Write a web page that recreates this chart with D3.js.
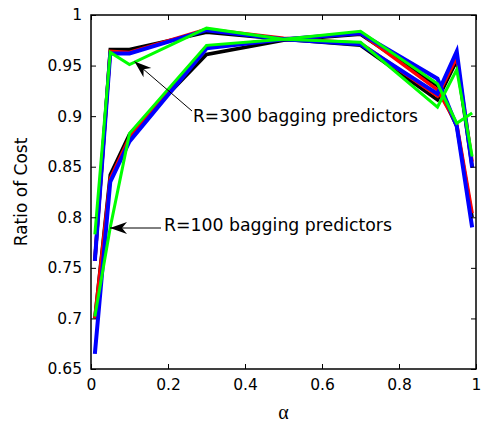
<!DOCTYPE html>
<html>
<head>
<meta charset="utf-8">
<script src="https://cdn.jsdelivr.net/npm/d3@7"></script>
<style>
  body { margin: 0; background: #fff; }
  text { font-family: "DejaVu Sans", "Liberation Sans", Arial, sans-serif; fill: #000; }
</style>
</head>
<body>
<div id="chart"></div>
<script>
// alpha grid
const alpha = [0.01, 0.05, 0.1, 0.3, 0.5, 0.7, 0.9, 0.95, 0.99];

// R=300 bagging predictors
const black300 = [0.757, 0.966, 0.966, 0.983, 0.976, 0.970, 0.916, 0.955, 0.850];
const red300   = [0.757, 0.964, 0.963, 0.986, 0.977, 0.972, 0.920, 0.958, 0.855];
const blue300  = [0.757, 0.962, 0.962, 0.985, 0.976, 0.971, 0.922, 0.964, 0.849];
const green300 = [0.783, 0.963, 0.951, 0.987, 0.976, 0.973, 0.909, 0.946, 0.860];

// R=100 bagging predictors
const black100 = [0.700, 0.842, 0.882, 0.961, 0.975, 0.981, 0.930, 0.890, 0.800];
const red100   = [0.700, 0.838, 0.879, 0.968, 0.976, 0.982, 0.926, 0.892, 0.804];
const blue100  = [0.665, 0.835, 0.875, 0.967, 0.976, 0.982, 0.937, 0.890, 0.790];
const green100 = [0.702, 0.790, 0.883, 0.970, 0.976, 0.984, 0.932, 0.893, 0.903];

const xTicks = [0, 0.2, 0.4, 0.6, 0.8, 1];
const yTicks = [0.65, 0.7, 0.75, 0.8, 0.85, 0.9, 0.95, 1];

const series = [
  { col: "#000000", w: 3.5, vals: black300 },
  { col: "#000000", w: 3.5, vals: black100 },
  { col: "#ff0000", w: 3.5, vals: red300 },
  { col: "#ff0000", w: 3.5, vals: red100 },
  { col: "#0000ff", w: 4, vals: blue300 },
  { col: "#0000ff", w: 4, vals: blue100 },
  { col: "#00ff00", w: 3, vals: green300 },
  { col: "#00ff00", w: 3, vals: green100 }
];

const width = 485, height = 423;
const m = { left: 91, right: 476, top: 15, bottom: 369 };

const x = d3.scaleLinear().domain([0, 1]).range([m.left, m.right]);
const y = d3.scaleLinear().domain([0.65, 1]).range([m.bottom, m.top]);

const svg = d3.select("#chart").append("svg")
  .attr("width", width)
  .attr("height", height);

// lines
const line = d3.line()
  .x((d, i) => x(alpha[i]))
  .y(d => y(d));

svg.append("g").selectAll("path")
  .data(series)
  .enter()
  .append("path")
  .attr("d", d => line(d.vals))
  .attr("fill", "none")
  .attr("stroke", d => d.col)
  .attr("stroke-width", d => d.w)
  .attr("stroke-linejoin", "miter");

// axes with inward ticks (matlab box)
const fmt = d => String(+d.toFixed(2));

svg.append("g")
  .attr("transform", `translate(0,${m.bottom})`)
  .call(d3.axisBottom(x).tickValues(xTicks).tickSize(-5).tickPadding(10).tickFormat(fmt));
svg.append("g")
  .attr("transform", `translate(${m.left},0)`)
  .call(d3.axisLeft(y).tickValues(yTicks).tickSize(-5).tickPadding(9).tickFormat(fmt));
svg.append("g")
  .attr("transform", `translate(0,${m.top})`)
  .call(d3.axisTop(x).tickValues(xTicks).tickSize(-5).tickFormat(""));
svg.append("g")
  .attr("transform", `translate(${m.right},0)`)
  .call(d3.axisRight(y).tickValues(yTicks).tickSize(-5).tickFormat(""));

svg.selectAll(".domain").remove();
svg.selectAll(".tick line").attr("stroke", "#000").attr("stroke-width", 1);
svg.selectAll(".tick text")
  .style("font-family", "'DejaVu Sans', sans-serif")
  .style("font-size", "15.5px")
  .attr("fill", "#000");

svg.append("rect")
  .attr("x", m.left).attr("y", m.top)
  .attr("width", m.right - m.left).attr("height", m.bottom - m.top)
  .attr("fill", "none")
  .attr("stroke", "#000")
  .attr("stroke-width", 1.5);

// axis labels
svg.append("text")
  .attr("x", x(0.5))
  .attr("y", 419)
  .attr("text-anchor", "middle")
  .style("font-family", "'Liberation Serif', 'DejaVu Serif', serif")
  .style("font-size", "20px")
  .text("α");

svg.append("text")
  .attr("transform", `translate(27,${(m.top + m.bottom) / 2}) rotate(-90)`)
  .attr("text-anchor", "middle")
  .style("font-size", "17px")
  .text("Ratio of Cost");

// annotations with arrows
function arrow(x1, y1, x2, y2) {
  svg.append("line")
    .attr("x1", x1).attr("y1", y1).attr("x2", x2).attr("y2", y2)
    .attr("stroke", "#000").attr("stroke-width", 1);
  const a = Math.atan2(y1 - y2, x1 - x2);
  const L = 17, W = 6, N = 12;
  const pts = [
    [x2, y2],
    [x2 + L * Math.cos(a) - W * Math.sin(a), y2 + L * Math.sin(a) + W * Math.cos(a)],
    [x2 + N * Math.cos(a), y2 + N * Math.sin(a)],
    [x2 + L * Math.cos(a) + W * Math.sin(a), y2 + L * Math.sin(a) - W * Math.cos(a)]
  ];
  svg.append("path")
    .attr("d", "M" + pts.map(p => p.join(",")).join("L") + "Z")
    .attr("fill", "#000");
}

arrow(192, 111, x(0.1) + 5, y(0.952) - 2);
svg.append("text")
  .attr("x", 193).attr("y", 122)
  .attr("textLength", 225).attr("lengthAdjust", "spacingAndGlyphs")
  .style("font-size", "17px")
  .text("R=300 bagging predictors");

arrow(161, 228, 110, 228);
svg.append("text")
  .attr("x", 164).attr("y", 231)
  .attr("textLength", 228).attr("lengthAdjust", "spacingAndGlyphs")
  .style("font-size", "17px")
  .text("R=100 bagging predictors");
</script>
</body>
</html>
